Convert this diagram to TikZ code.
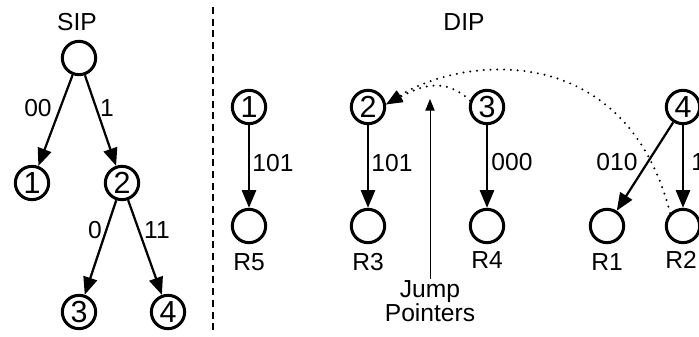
\documentclass[tikz,border=0pt]{standalone}
\usepackage{fontspec}
\setmainfont{Liberation Sans}
\usetikzlibrary{arrows.meta}

\begin{document}
\begin{tikzpicture}[x=0.03cm, y=0.03cm,
		vert/.style={circle, draw, line width=2.6pt, minimum size=1.0cm, inner sep=0pt, font=\fontsize{26}{26}\selectfont},
		rot/.style={inner sep=1pt, font=\fontsize{21}{21}\selectfont},
		seta/.style={line width=1.9pt, -{Triangle[length=15pt, width=12pt]}},
		salto/.style={line width=1.9pt, dash pattern=on 0pt off 5.8pt, line cap=round, -{Triangle[length=14pt, width=10pt]}},
		fino/.style={line width=0.8pt, -{Triangle[length=10pt, width=8pt]}}]
	\useasboundingbox (0,0) rectangle (699,337);
	\clip (0,0) rectangle (699,337);

	% SIP
	\node[rot] (sip) at (77,315) {SIP};										% Titulo SIP
	\node[vert] (s0) at (79,279) {};
	\node[vert] (s1) at (32,154) {1};
	\node[vert] (s2) at (122,154) {2};
	\node[vert] (s3) at (79,25) {3};
	\node[vert] (s4) at (168,25) {4};

	\draw[seta] (s0) -- (s1);
	\draw[seta] (s0) -- (s2);
	\draw[seta] (s2) -- (s3);
	\draw[seta] (s2) -- (s4);

	\node[rot] (l00) at (38,229) {00};
	\node[rot] (l1) at (107,229) {1};
	\node[rot] (l0) at (95,107) {0};
	\node[rot] (l11) at (157,107) {11};

	% Separador
	\coordinate (sepA) at (213,330);
	\coordinate (sepB) at (213,5);
	\draw[line width=1.3pt, dash pattern=on 6pt off 4pt] (sepA) -- (sepB);

	% DIP
	\node[rot] (dip) at (464,315) {DIP};									% Titulo DIP
	\node[vert] (d1) at (249,230) {1};
	\node[vert] (d2) at (368,230) {2};
	\node[vert] (d3) at (487,230) {3};
	\node[vert] (d4) at (683,230) {4};

	\node[vert] (r5) at (249,111) {};
	\node[vert] (r3) at (368,111) {};
	\node[vert] (r4) at (487,111) {};
	\node[vert] (r1) at (607,111) {};
	\node[vert] (r2) at (683,111) {};

	\node[rot] (t5) at (249,75) {R5};
	\node[rot] (t3) at (368,75) {R3};
	\node[rot] (t4) at (487,77) {R4};
	\node[rot] (t1) at (607,75) {R1};
	\node[rot] (t2) at (681,77) {R2};

	\draw[seta] (d1) -- (r5);
	\draw[seta] (d2) -- (r3);
	\draw[seta] (d3) -- (r4);
	\draw[seta] (d4) -- (r1);
	\draw[seta] (d4) -- (r2);

	\node[rot] (e1) at (273,174) {101};
	\node[rot] (e2) at (392,174) {101};
	\node[rot] (e3) at (512,175) {000};
	\node[rot] (e4) at (617,175) {010};
	\node[rot, anchor=west] (e5) at (690,175) {1};

	% Ponteiros de salto
	\draw[salto] (r2.135) .. controls (625,300) and (460,280) .. (d2.8);
	\draw[salto] (d3.160) to[out=135, in=28, looseness=1.1] (d2.8);

	\node[rot, align=center] (jp) at (430,36) {Jump\\Pointers};
	\coordinate (jtopo) at (430,238);
	\draw[fino] (jp.north) -- (jtopo);
\end{tikzpicture}
\end{document}
